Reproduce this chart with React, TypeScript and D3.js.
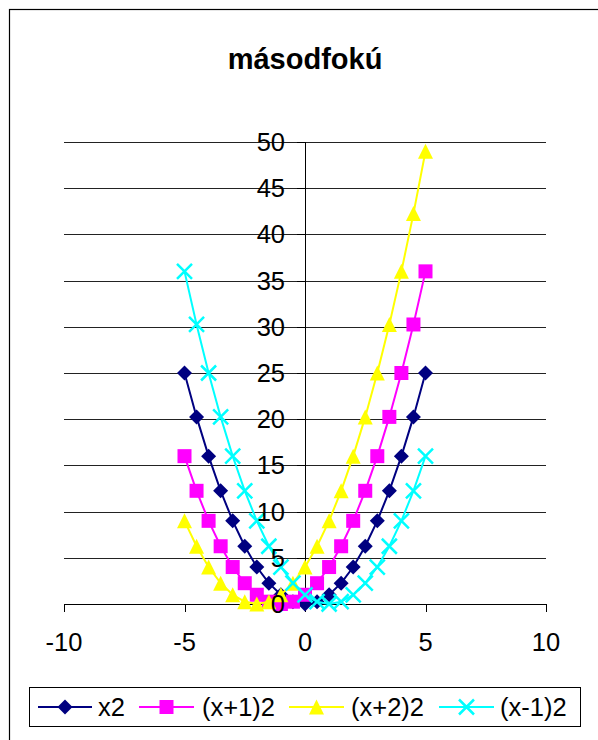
import React from "react";
import * as d3 from "d3";

const title = "másodfokú";
const xValues = [-5, -4.5, -4, -3.5, -3, -2.5, -2, -1.5, -1, -0.5, 0, 0.5, 1, 1.5, 2, 2.5, 3, 3.5, 4, 4.5, 5];
const seriesX2 = [25, 20.25, 16, 12.25, 9, 6.25, 4, 2.25, 1, 0.25, 0, 0.25, 1, 2.25, 4, 6.25, 9, 12.25, 16, 20.25, 25];
const seriesXp1 = [16, 12.25, 9, 6.25, 4, 2.25, 1, 0.25, 0, 0.25, 1, 2.25, 4, 6.25, 9, 12.25, 16, 20.25, 25, 30.25, 36];
const seriesXp2 = [9, 6.25, 4, 2.25, 1, 0.25, 0, 0.25, 1, 2.25, 4, 6.25, 9, 12.25, 16, 20.25, 25, 30.25, 36, 42.25, 49];
const seriesXm1 = [36, 30.25, 25, 20.25, 16, 12.25, 9, 6.25, 4, 2.25, 1, 0.25, 0, 0.25, 1, 2.25, 4, 6.25, 9, 12.25, 16];
const seriesNames = ["x2", "(x+1)2", "(x+2)2", "(x-1)2"];
const xTicks = [-10, -5, 0, 5, 10];
const yTicks = [0, 5, 10, 15, 20, 25, 30, 35, 40, 45, 50];

const colors = ["#000080", "#FF00FF", "#FFFF00", "#00FFFF"];
const shapes = ["diamond", "square", "triangle", "cross"];
const FONT = "'Liberation Sans', Arial, sans-serif";

function Marker({ shape, color, x, y }: { shape: string; color: string; x: number; y: number }) {
  if (shape === "diamond") {
    const r = 7.5;
    return <path d={`M${x},${y - r}L${x + r},${y}L${x},${y + r}L${x - r},${y}Z`} fill={color} />;
  }
  if (shape === "square") {
    const r = 7;
    return <rect x={x - r} y={y - r} width={2 * r} height={2 * r} fill={color} />;
  }
  if (shape === "triangle") {
    const r = 7.5;
    return <path d={`M${x},${y - r}L${x + r},${y + r}L${x - r},${y + r}Z`} fill={color} />;
  }
  const r = 7.5;
  return (
    <path
      d={`M${x - r},${y - r}L${x + r},${y + r}M${x - r},${y + r}L${x + r},${y - r}`}
      stroke={color}
      strokeWidth={2.5}
      fill="none"
    />
  );
}

export default function App() {
  const W = 598;
  const H = 740;
  const x = d3.scaleLinear().domain([-10, 10]).range([64, 546]);
  const y = d3.scaleLinear().domain([0, 50]).range([604, 142]);
  const all = [seriesX2, seriesXp1, seriesXp2, seriesXm1];
  const line = d3
    .line<number>()
    .x((_, i) => x(xValues[i]))
    .y((d) => y(d));

  const legendItems = [
    { lx0: 38, lx1: 92, tx: 98 },
    { lx0: 139, lx1: 194, tx: 202 },
    { lx0: 289, lx1: 344, tx: 351 },
    { lx0: 439, lx1: 494, tx: 500 },
  ];
  const legendY = 707;
  const fs = 25.5;

  return (
    <div style={{ position: "absolute", left: 0, top: 0 }}>
      <svg width={W} height={H} style={{ display: "block", fontFamily: FONT }}>
        <rect x={0} y={0} width={W} height={H} fill="#fff" />
        <rect x={9.5} y={9.5} width={640} height={800} fill="#fff" stroke="#000" strokeWidth={1.2} />
        <text x={305} y={69} textAnchor="middle" fontSize={29} fontWeight="bold" fill="#000">
          {title}
        </text>
        {yTicks.filter((t) => t > 0).map((t) => (
          <line key={t} x1={64} x2={546} y1={Math.round(y(t)) + 0.5} y2={Math.round(y(t)) + 0.5} stroke="#222" strokeWidth={1} />
        ))}
        <line x1={64} x2={546} y1={Math.round(y(0)) + 0.5} y2={Math.round(y(0)) + 0.5} stroke="#000" strokeWidth={1} />
        {xTicks.map((t) => (
          <line key={t} x1={Math.round(x(t)) + 0.5} x2={Math.round(x(t)) + 0.5} y1={y(0)} y2={y(0) + 8} stroke="#000" />
        ))}
        <line x1={Math.round(x(0)) + 0.5} x2={Math.round(x(0)) + 0.5} y1={y(50)} y2={y(0)} stroke="#000" />
        {yTicks.map((t) => (
          <line key={t} x1={x(0) - 8} x2={x(0)} y1={Math.round(y(t)) + 0.5} y2={Math.round(y(t)) + 0.5} stroke="#000" />
        ))}
        {all.map((s, si) => (
          <g key={si}>
            <path d={line(s) || ""} fill="none" stroke={colors[si]} strokeWidth={2} />
            {s.map((v, i) => (
              <Marker key={i} shape={shapes[si]} color={colors[si]} x={x(xValues[i])} y={y(v)} />
            ))}
          </g>
        ))}
        {yTicks.map((t) => (
          <text key={t} x={285} y={y(t) + 9} textAnchor="end" fontSize={fs} fill="#000">
            {t}
          </text>
        ))}
        {xTicks.map((t) => (
          <text key={t} x={x(t)} y={651} textAnchor="middle" fontSize={fs} fill="#000">
            {t}
          </text>
        ))}
        <rect x={29.5} y={687.5} width={551} height={39} fill="#fff" stroke="#000" strokeWidth={1} />
        {legendItems.map((it, i) => (
          <g key={i}>
            <line x1={it.lx0} x2={it.lx1} y1={legendY} y2={legendY} stroke={colors[i]} strokeWidth={2} />
            <Marker shape={shapes[i]} color={colors[i]} x={(it.lx0 + it.lx1) / 2} y={legendY} />
            <text x={it.tx} y={legendY + 9} fontSize={fs} fill="#000">
              {seriesNames[i]}
            </text>
          </g>
        ))}
      </svg>
    </div>
  );
}
